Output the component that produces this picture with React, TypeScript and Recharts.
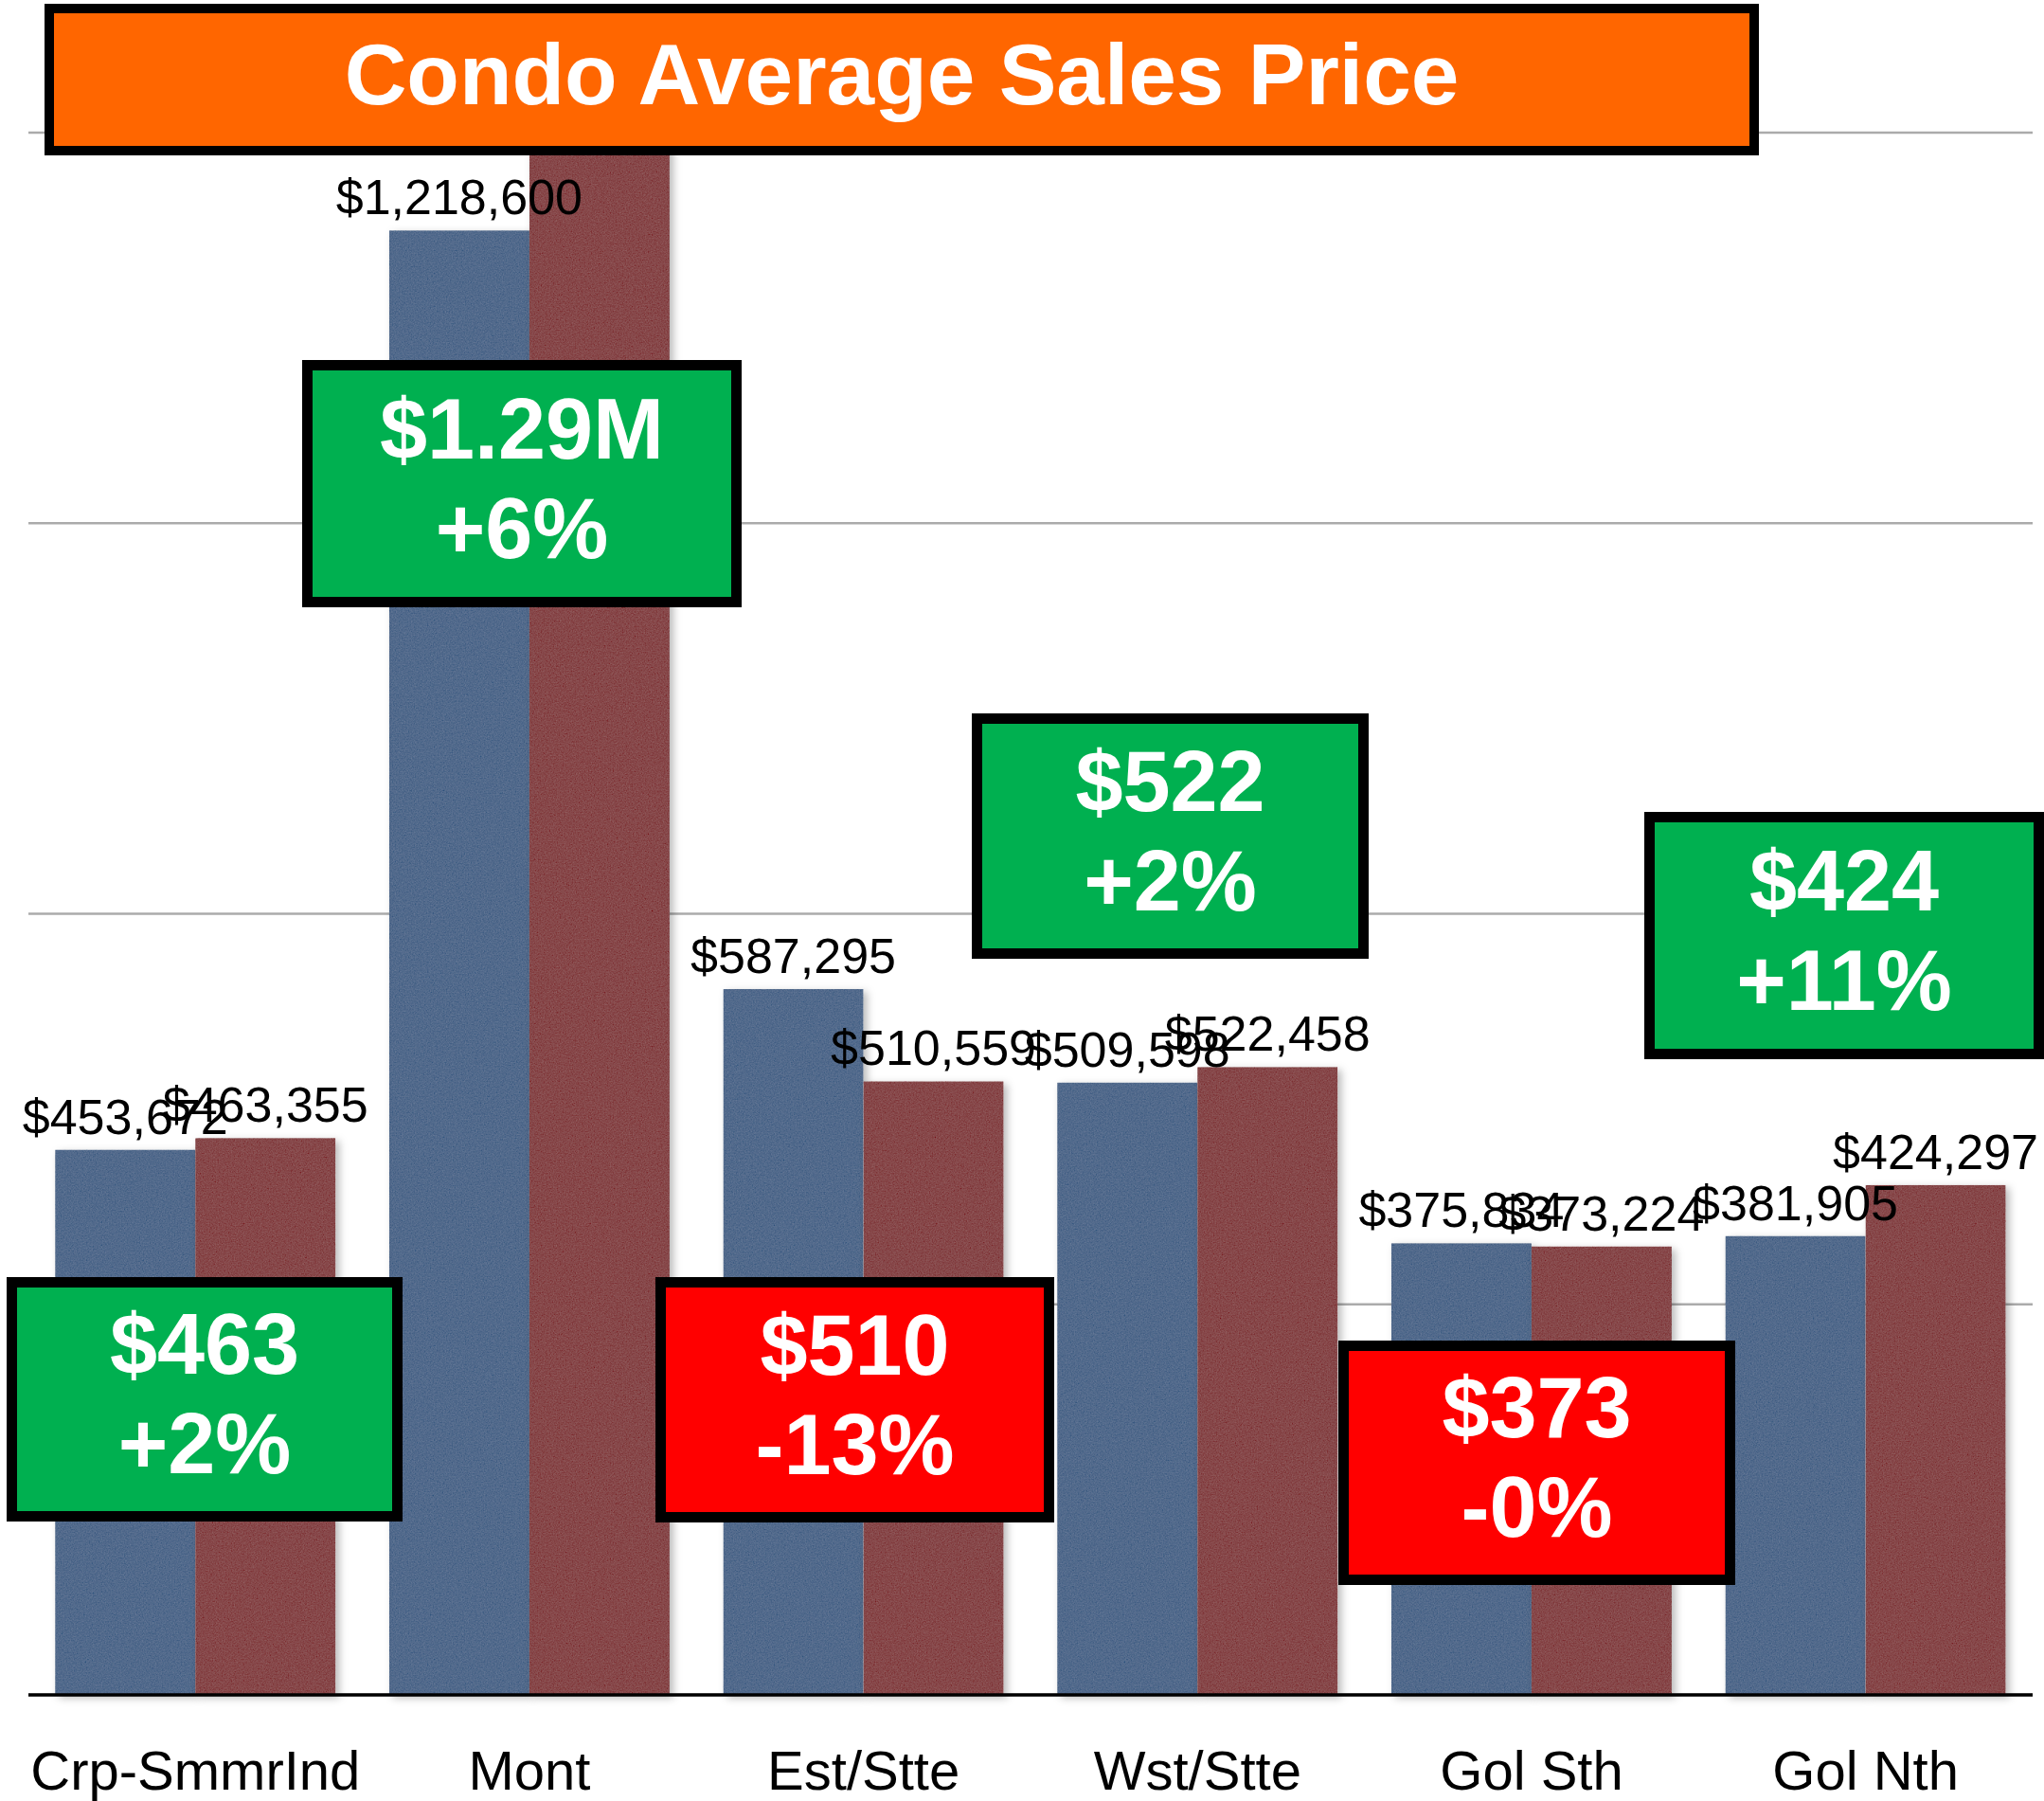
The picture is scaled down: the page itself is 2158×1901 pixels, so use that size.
import React from "react";
import { BarChart, Bar, XAxis, YAxis, CartesianGrid, LabelList } from "recharts";

// Condo average sales price by area, prior year vs current year
const areas = ["Crp-SmmrInd", "Mont", "Est/Stte", "Wst/Stte", "Gol Sth", "Gol Nth"];
const priorYear = [453672, 1218600, 587295, 509598, 375834, 381905];
const currentYear = [463355, 1290000, 510559, 522458, 373224, 424297];
const yTicks = [0, 325000, 650000, 975000, 1300000];

// call-out boxes: current price in $K and change vs prior year
const calloutPrices = ["$463", "$1.29M", "$510", "$522", "$373", "$424"];
const calloutChanges = ["+2%", "+6%", "-13%", "+2%", "-0%", "+11%"];
const calloutUp = [true, true, false, true, false, true];

// where each call-out box sits on the page (layout only)
const calloutBoxes = [
  { left: 7, top: 1348, width: 418, height: 258 },
  { left: 319, top: 380, width: 464, height: 261 },
  { left: 692, top: 1348, width: 421, height: 259 },
  { left: 1026, top: 753, width: 419, height: 259 },
  { left: 1413, top: 1415, width: 419, height: 258 },
  { left: 1736, top: 857, width: 422, height: 261 },
];

const data = areas.map((area, i) => ({
  area,
  prior: priorYear[i],
  current: currentYear[i],
}));

const FONT = "'Liberation Sans', Arial, Helvetica, sans-serif";
const W = 2158;
const H = 1901;

const money = (v: any) => "$" + Number(v).toLocaleString("en-US");

const TexturedBar = (props: any) => {
  const { x, y, width, height, fill } = props;
  if (!height || height <= 0) return null;
  return (
    <rect
      x={x}
      y={y}
      width={width}
      height={height}
      fill={fill}
      filter="url(#barTexture)"
    />
  );
};

const AreaTick = ({ x, y, payload }: any) => (
  <text
    x={x}
    y={y}
    dy={92}
    textAnchor="middle"
    fontSize={58}
    fontFamily={FONT}
    fill="#000"
  >
    {payload.value}
  </text>
);

export default function App() {
  return (
    <div
      style={{
        position: "absolute",
        left: 0,
        top: 0,
        width: W,
        height: H,
        background: "#fff",
        fontFamily: FONT,
        overflow: "hidden",
      }}
    >
      <BarChart
        width={W}
        height={H}
        data={data}
        margin={{ top: 140, right: 12, bottom: 0, left: 30 }}
        barCategoryGap="8%"
        barGap={0}
      >
        <defs>
          <filter id="barTexture" x="-5%" y="-5%" width="120%" height="110%">
            <feTurbulence
              type="fractalNoise"
              baseFrequency="0.7"
              numOctaves="3"
              seed="7"
              result="noise"
            />
            <feColorMatrix
              in="noise"
              type="matrix"
              values="0.33 0.33 0.33 0 0  0.33 0.33 0.33 0 0  0.33 0.33 0.33 0 0  0 0 0 0 1"
              result="gray"
            />
            <feComposite
              in="gray"
              in2="SourceGraphic"
              operator="arithmetic"
              k1="0"
              k2="0.2"
              k3="1"
              k4="-0.1"
              result="grainy"
            />
            <feComposite in="grainy" in2="SourceGraphic" operator="in" result="tex" />
            <feDropShadow
              in="tex"
              dx="4"
              dy="3"
              stdDeviation="4"
              floodColor="#000"
              floodOpacity="0.28"
            />
          </filter>
        </defs>
        <CartesianGrid vertical={false} stroke="#ababab" strokeWidth={2.5} />
        <XAxis
          dataKey="area"
          interval={0}
          height={112}
          tickLine={false}
          axisLine={{ stroke: "#000", strokeWidth: 3.5 }}
          tick={<AreaTick />}
        />
        <YAxis hide type="number" domain={[0, 1300000]} ticks={yTicks} />
        <Bar
          dataKey="prior"
          fill="#526A8C"
          shape={<TexturedBar />}
          isAnimationActive={false}
        >
          <LabelList
            dataKey="prior"
            position="top"
            offset={17}
            formatter={money}
            fontSize={52}
            fontFamily={FONT}
            fill="#000"
          />
        </Bar>
        <Bar
          dataKey="current"
          fill="#87484A"
          shape={<TexturedBar />}
          isAnimationActive={false}
        >
          <LabelList
            dataKey="current"
            position="top"
            offset={17}
            formatter={money}
            fontSize={52}
            fontFamily={FONT}
            fill="#000"
          />
        </Bar>
      </BarChart>

      {/* Title banner */}
      <div
        style={{
          position: "absolute",
          left: 47,
          top: 4,
          width: 1810,
          height: 160,
          boxSizing: "border-box",
          border: "10px solid #000",
          background: "#FF6600",
          color: "#fff",
          fontWeight: 700,
          fontSize: 91,
          display: "flex",
          alignItems: "center",
          justifyContent: "center",
          paddingBottom: 10,
          whiteSpace: "nowrap",
        }}
      >
        Condo Average Sales Price
      </div>

      {/* Call-out boxes */}
      {calloutBoxes.map((box, i) => (
        <div
          key={areas[i]}
          style={{
            position: "absolute",
            left: box.left,
            top: box.top,
            width: box.width,
            height: box.height,
            boxSizing: "border-box",
            border: "11px solid #000",
            background: calloutUp[i] ? "#00B050" : "#FF0000",
            color: "#fff",
            fontWeight: 700,
            fontSize: 90,
            lineHeight: "105px",
            display: "flex",
            flexDirection: "column",
            alignItems: "center",
            justifyContent: "center",
            paddingBottom: 10,
            textAlign: "center",
          }}
        >
          <div>{calloutPrices[i]}</div>
          <div>{calloutChanges[i]}</div>
        </div>
      ))}
    </div>
  );
}
